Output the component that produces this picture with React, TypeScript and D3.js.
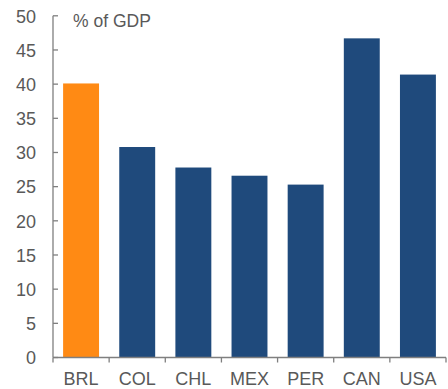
import React from "react";
import * as d3 from "d3";

const categories = ["BRL", "COL", "CHL", "MEX", "PER", "CAN", "USA"];
const values = [40.1, 30.8, 27.8, 26.6, 25.3, 46.7, 41.4];
const highlight = ["BRL"];
const yTicks = [0, 5, 10, 15, 20, 25, 30, 35, 40, 45, 50];

export default function App() {
  const W = 448, H = 389;
  const x0 = 53, x1 = 446, yTop = 15.8, yBot = 357.5;
  const x = d3.scaleBand<string>().domain(categories).range([x0, x1]).paddingInner(0.36).paddingOuter(0.18);
  const y = d3.scaleLinear().domain([0, 50]).range([yBot, yTop]);
  const axisColor = "#7f7f7f";
  const textColor = "#595959";
  const font = "'Liberation Sans', Arial, sans-serif";
  const step = (x1 - x0) / categories.length;
  return (
    <svg width={W} height={H} style={{ position: "absolute", left: 0, top: 0 }}>
      {categories.map((c, i) => (
        <rect key={c} x={x(c)} y={y(values[i])} width={x.bandwidth()} height={yBot - y(values[i])}
          fill={highlight.includes(c) ? "#FF8A14" : "#1F4A7C"} />
      ))}
      <line x1={x0} x2={x0} y1={yTop} y2={yBot} stroke={axisColor} strokeWidth={1.3} />
      <line x1={x0} x2={x1} y1={yBot} y2={yBot} stroke={axisColor} strokeWidth={1.3} />
      {yTicks.map(t => (
        <g key={t}>
          <line x1={x0} x2={x0 + 5} y1={y(t)} y2={y(t)} stroke={axisColor} strokeWidth={1.3} />
          <text x={36} y={y(t) + 6.8} textAnchor="end" fontFamily={font} fontSize={18} fill={textColor}>{t}</text>
        </g>
      ))}
      {d3.range(categories.length + 1).map(i => (
        <line key={i} x1={x0 + i * step} x2={x0 + i * step} y1={yBot} y2={yBot + 5} stroke={axisColor} strokeWidth={1.3} />
      ))}
      {categories.map(c => (
        <text key={c} x={(x(c) as number) + x.bandwidth() / 2} y={385} textAnchor="middle" fontFamily={font} fontSize={18} fill={textColor}>{c}</text>
      ))}
      <text x={73} y={26.7} fontFamily={font} fontSize={17.5} fill={textColor}>% of GDP</text>
    </svg>
  );
}
